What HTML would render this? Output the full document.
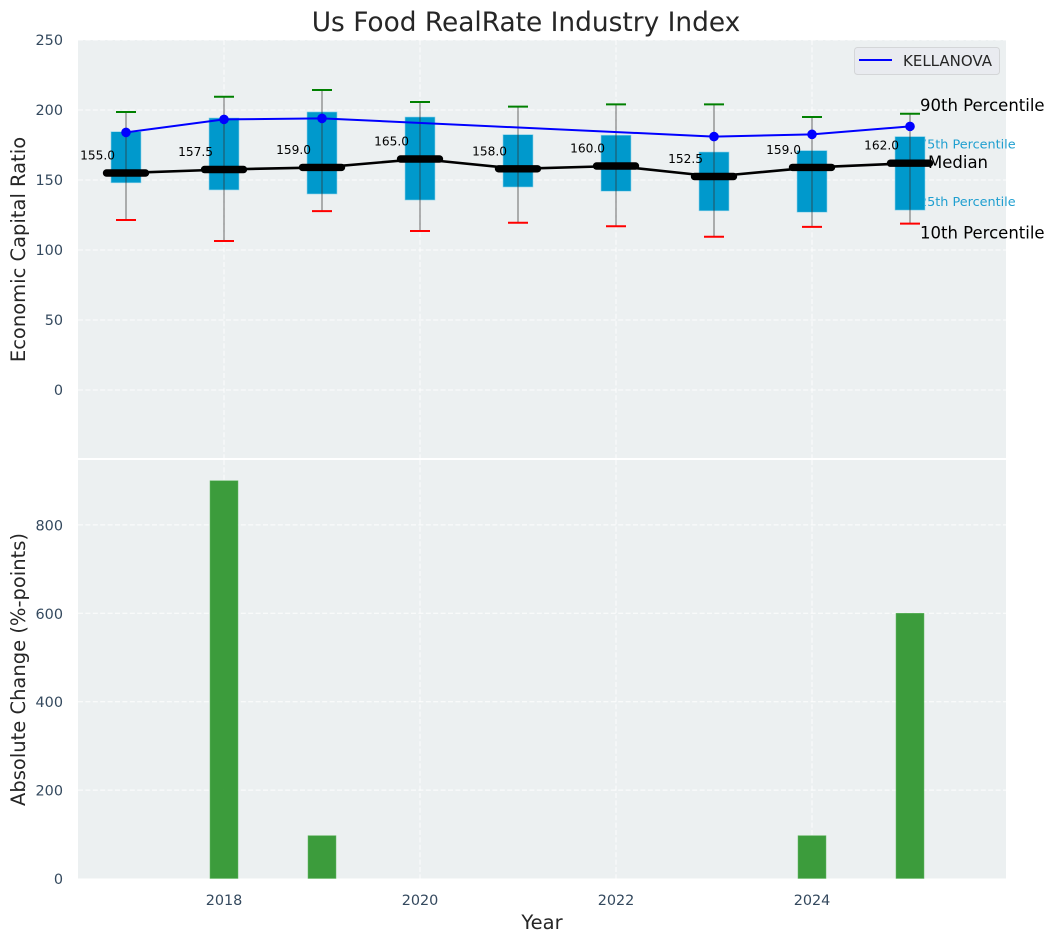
<!DOCTYPE html>
<html lang="en">
<head>
<meta charset="utf-8">
<title>Us Food RealRate Industry Index</title>
<style>
html,body{margin:0;padding:0;background:#fff;width:1055px;height:942px;overflow:hidden}
svg{display:block;font-family:"DejaVu Sans","Liberation Sans",sans-serif}
</style>
</head>
<body>
<svg id="chart" xmlns="http://www.w3.org/2000/svg" width="1055" height="942" viewBox="0 0 1055 942"></svg>
<script>
const years = [2017, 2018, 2019, 2020, 2021, 2022, 2023, 2024, 2025];
const p90 = [198.6, 209.5, 214.3, 205.7, 202.4, 204, 204, 195, 197.3];
const p75 = [184.5, 194.3, 198.6, 195, 182.4, 182, 170, 171, 181];
const medians = [155, 157.5, 159, 165, 158, 160, 152.5, 159, 162];
const p25 = [148, 142.9, 140, 135.7, 145, 142, 128, 127, 128.5];
const p10 = [121.4, 106.4, 127.8, 113.6, 119.5, 117, 109.5, 116.5, 118.8];
const kellanovaYears = [2017, 2018, 2019, 2023, 2024, 2025];
const kellanova = [184, 193.3, 194, 181, 182.6, 188.3];
const changeYears = [2018, 2019, 2024, 2025];
const changes = [900, 97, 97, 600];
const topTicks = [0, 50, 100, 150, 200, 250];
const bottomTicks = [0, 200, 400, 600, 800];
const xTicks = [2018, 2020, 2022, 2024];

const NS = 'http://www.w3.org/2000/svg';
const svg = document.getElementById('chart');
const PANEL_L = 78, PANEL_R = 1006, TOP_T = 40, TOP_B = 458, BOT_T = 460, BOT_B = 878.5;
const x = y => 126 + 98 * (y - 2017);
const yTop = v => 390 - 1.4 * v;
const yBot = v => 878.5 - 0.442 * v;

function mk(tag, attrs, text) {
  const el = document.createElementNS(NS, tag);
  for (const k in attrs) el.setAttribute(k, attrs[k]);
  if (text !== undefined) el.textContent = text;
  svg.appendChild(el);
  return el;
}
let el;

el = mk('rect', {x: PANEL_L, y: TOP_T, width: PANEL_R - PANEL_L, height: TOP_B - TOP_T, fill: '#ecf0f1'});


el = mk('rect', {x: PANEL_L, y: BOT_T, width: PANEL_R - PANEL_L, height: BOT_B - BOT_T, fill: '#ecf0f1'});



const gridStyle = {stroke: '#ffffff', 'stroke-width': 1, 'stroke-dasharray': '5 2.4', opacity: 0.9};
topTicks.forEach(t => {
  el = mk('line', Object.assign({x1: PANEL_L, x2: PANEL_R, y1: yTop(t), y2: yTop(t)}, gridStyle));
  
  
  el = mk('text', {x: 63, y: yTop(t) + 5, 'text-anchor': 'end', 'font-size': 14.4, fill: '#34495e'}, String(t));
  
  
});
bottomTicks.forEach(t => {
  if (t > 0) {
    el = mk('line', Object.assign({x1: PANEL_L, x2: PANEL_R, y1: yBot(t), y2: yBot(t)}, gridStyle));
    
    
  }
  el = mk('text', {x: 63, y: yBot(t) + 5.5, 'text-anchor': 'end', 'font-size': 14.4, fill: '#34495e'}, String(t));
  
  
});
xTicks.forEach(t => {
  el = mk('line', Object.assign({x1: x(t), x2: x(t), y1: TOP_T, y2: TOP_B}, gridStyle));
  
  
  el = mk('line', Object.assign({x1: x(t), x2: x(t), y1: BOT_T, y2: BOT_B}, gridStyle));
  
  
  el = mk('text', {x: x(t), y: 905, 'text-anchor': 'middle', 'font-size': 14.4, fill: '#34495e'}, String(t));
  
  
});

const last = years.length - 1;
const lastX = x(years[last]);
el = mk('text', {x: lastX + 9, y: yTop(p75[last]) + 12, 'font-size': 12.8, fill: '#1f9fd0'}, '75th Percentile');


el = mk('text', {x: lastX + 9, y: yTop(p25[last]) - 4, 'font-size': 12.8, fill: '#1f9fd0'}, '25th Percentile');



years.forEach((yr, i) => {
  el = mk('rect', {x: x(yr) - 15, y: yTop(p75[i]), width: 30, height: yTop(p25[i]) - yTop(p75[i]), fill: '#0099cc', stroke: '#8fd3ea', 'stroke-width': 0.6});
  
  
  el = mk('line', {x1: x(yr), x2: x(yr), y1: yTop(p90[i]), y2: yTop(p10[i]), stroke: '#333333', 'stroke-width': 1.3, opacity: 0.55});
  
  
  el = mk('line', {x1: x(yr) - 10, x2: x(yr) + 10, y1: yTop(p90[i]), y2: yTop(p90[i]), stroke: '#008000', 'stroke-width': 2});
  
  
  el = mk('line', {x1: x(yr) - 10, x2: x(yr) + 10, y1: yTop(p10[i]), y2: yTop(p10[i]), stroke: '#ff0000', 'stroke-width': 2});
  
  
});

el = mk('polyline', {points: years.map((yr, i) => x(yr) + ',' + yTop(medians[i])).join(' '), fill: 'none', stroke: '#000000', 'stroke-width': 2.6});



years.forEach((yr, i) => {
  el = mk('line', {x1: x(yr) - 19.5, x2: x(yr) + 19.5, y1: yTop(medians[i]), y2: yTop(medians[i]), stroke: '#000000', 'stroke-width': 7.4, 'stroke-linecap': 'round'});
  
  
  el = mk('text', {x: x(yr) - 28.4, y: yTop(medians[i]) - 13.5, 'text-anchor': 'middle', 'font-size': 12.2, fill: '#000000'}, medians[i].toFixed(1));
  
  
});

el = mk('polyline', {points: kellanovaYears.map((yr, i) => x(yr) + ',' + yTop(kellanova[i])).join(' '), fill: 'none', stroke: '#0000ff', 'stroke-width': 2});


kellanovaYears.forEach((yr, i) => {
  el = mk('circle', {cx: x(yr), cy: yTop(kellanova[i]), r: 4.8, fill: '#0000ff'});
  
  
});

el = mk('text', {x: lastX + 10, y: yTop(p90[last]) - 3, 'font-size': 16.5, fill: '#000000'}, '90th Percentile');


el = mk('text', {x: lastX + 18, y: yTop(medians[last]) + 5, 'font-size': 16.5, fill: '#000000'}, 'Median');


el = mk('text', {x: lastX + 10, y: yTop(p10[last]) + 15, 'font-size': 16.5, fill: '#000000'}, '10th Percentile');



changeYears.forEach((yr, i) => {
  el = mk('rect', {x: x(yr) - 14, y: yBot(changes[i]), width: 28, height: yBot(0) - yBot(changes[i]), fill: '#2f962f', opacity: 0.93, stroke: '#5cb55c', 'stroke-width': 0.5});
  
  
});

el = mk('rect', {x: 854.5, y: 47.5, width: 145, height: 27, rx: 3, fill: '#e9ebf0', stroke: '#d4d6d8', 'stroke-width': 1});


el = mk('line', {x1: 859, x2: 892, y1: 60, y2: 60, stroke: '#0000ff', 'stroke-width': 2});


el = mk('text', {x: 903, y: 66, 'font-size': 15, fill: '#262626'}, 'KELLANOVA');



el = mk('text', {x: 526, y: 31, 'text-anchor': 'middle', 'font-size': 26.4, fill: '#262626'}, 'Us Food RealRate Industry Index');


el = mk('text', {x: 542, y: 929, 'text-anchor': 'middle', 'font-size': 19.5, fill: '#262626'}, 'Year');


el = mk('text', {x: 0, y: 0, transform: 'translate(25,249.5) rotate(-90)', 'text-anchor': 'middle', 'font-size': 19.5, fill: '#262626'}, 'Economic Capital Ratio');


el = mk('text', {x: 0, y: 0, transform: 'translate(25,669.5) rotate(-90)', 'text-anchor': 'middle', 'font-size': 19.5, fill: '#262626'}, 'Absolute Change (%-points)');


</script>
</body>
</html>
